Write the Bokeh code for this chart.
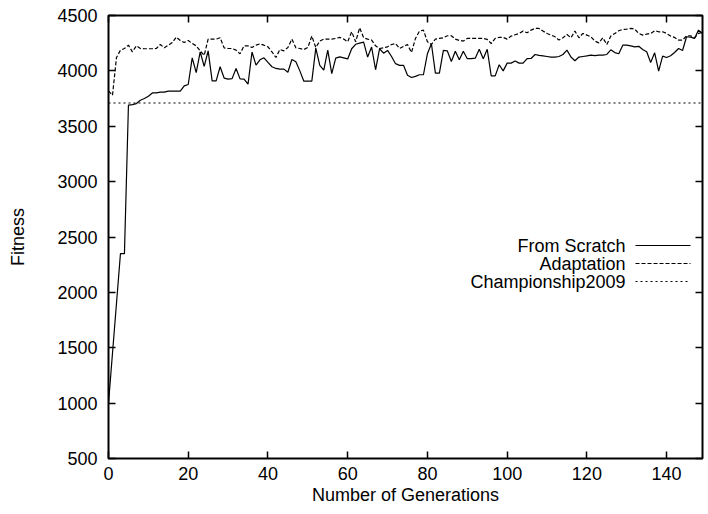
from bokeh.plotting import figure
from bokeh.models import Range1d, FixedTicker, LinearAxis, Label, Arrow, Span
from bokeh.embed import file_html
from bokeh.resources import INLINE

generations = list(range(150))

from_scratch = [
    1000, 1450, 1900, 2350, 2350, 3690, 3696, 3705, 3735, 3750,
    3771, 3801, 3801, 3808, 3808, 3817, 3817, 3817, 3817, 3865,
    3877, 4118, 3985, 4172, 4040, 4180, 3910, 3910, 4037, 3935,
    3925, 3930, 4022, 3928, 3925, 3880, 4170, 4052, 4100, 4118,
    4076, 4037, 4022, 4016, 4016, 3988, 4103, 4082, 4000, 3907,
    3907, 3907, 4205, 4050, 4006, 4187, 3976, 4115, 4127, 4118,
    4108, 4200, 4240, 4250, 4260, 4125, 4215, 4010, 4200, 4160,
    4185, 4130, 4065, 4050, 4050, 3960, 3940, 3950, 3965, 3965,
    4155, 4245, 3980, 3980, 4185, 4180, 4085, 4178, 4100, 4178,
    4110, 4110, 4115, 4195, 4110, 4195, 3955, 3955, 4055, 4000,
    4070, 4070, 4090, 4070, 4070, 4110, 4112, 4148, 4140, 4135,
    4130, 4125, 4125, 4130, 4148, 4187, 4125, 4091, 4125, 4130,
    4135, 4142, 4138, 4142, 4142, 4148, 4190, 4165, 4155, 4232,
    4232, 4226, 4217, 4222, 4193, 4172, 4076, 4163, 3997, 4133,
    4121, 4136, 4166, 4202, 4184, 4308, 4305, 4293, 4368, 4340,
]

adaptation = [
    3820, 3780, 4120, 4187, 4202, 4232, 4172, 4226, 4202, 4200,
    4200, 4200, 4202, 4238, 4208, 4232, 4256, 4305, 4275, 4256,
    4275, 4247, 4226, 4180, 4140, 4287, 4287, 4287, 4299, 4208,
    4202, 4202, 4187, 4154, 4226, 4226, 4211, 4232, 4244, 4232,
    4217, 4172, 4121, 4193, 4181, 4211, 4287, 4208, 4202, 4193,
    4211, 4314, 4211, 4269, 4287, 4287, 4287, 4293, 4302, 4287,
    4263, 4353, 4263, 4389, 4299, 4287, 4278, 4226, 4202, 4208,
    4217, 4238, 4247, 4202, 4220, 4238, 4166, 4293, 4359, 4368,
    4263, 4238, 4287, 4293, 4299, 4317, 4317, 4287, 4275, 4269,
    4293, 4293, 4293, 4293, 4293, 4284, 4247, 4293, 4302, 4302,
    4287, 4314, 4326, 4338, 4359, 4344, 4368, 4383, 4383, 4359,
    4338, 4323, 4308, 4278, 4299, 4329, 4299, 4359, 4299, 4338,
    4323, 4308, 4269, 4253, 4299, 4238, 4314, 4338, 4362, 4374,
    4377, 4383, 4377, 4338, 4323, 4332, 4338, 4362, 4353, 4353,
    4338, 4314, 4302, 4278, 4278, 4317, 4317, 4299, 4338, 4347,
]

championship2009 = 3710

x_ticks = [0, 20, 40, 60, 80, 100, 120, 140]
y_ticks = [500, 1000, 1500, 2000, 2500, 3000, 3500, 4000, 4500]
series_names = ["From Scratch", "Adaptation", "Championship2009"]

FONT = "Liberation Sans"
FS = "18px"

p = figure(width=706, height=514, output_backend="svg", toolbar_location=None,
           x_range=Range1d(0, 149), y_range=Range1d(500, 4500),
           min_border_left=108, min_border_right=4, min_border_top=15,
           min_border_bottom=56)
p.grid.visible = False
p.outline_line_color = "black"
p.outline_line_width = 2
p.background_fill_color = "white"
p.border_fill_color = "white"

p.line(generations, from_scratch, line_color="black", line_width=1.2)
p.line(generations, adaptation, line_color="black", line_width=1.2, line_dash="4 2")
p.add_layout(Span(location=championship2009, dimension="width",
                  line_color="black", line_width=1.2, line_dash="2 3"))

def style(ax, ticks, show_labels, standoff):
    ax.ticker = FixedTicker(ticks=ticks)
    ax.major_tick_in = 7
    ax.major_tick_out = 0
    ax.minor_tick_in = 0
    ax.minor_tick_out = 0
    ax.axis_line_color = None
    ax.major_tick_line_color = "black"
    ax.major_tick_line_width = 1.5
    ax.major_label_text_font = FONT
    ax.major_label_text_color = "black"
    ax.major_label_text_font_size = FS
    ax.major_label_standoff = standoff
    if not show_labels:
        ax.major_label_overrides = {t: "" for t in ticks}

style(p.xaxis[0], x_ticks, True, 8)
style(p.yaxis[0], y_ticks, True, 11)
p.xaxis[0].axis_label = "Number of Generations"
p.yaxis[0].axis_label = "Fitness"
for ax, so in ((p.xaxis[0], 2), (p.yaxis[0], 26)):
    ax.axis_label_text_font = FONT
    ax.axis_label_text_font_size = FS
    ax.axis_label_text_font_style = "normal"
    ax.axis_label_text_color = "black"
    ax.axis_label_standoff = so

top = LinearAxis()
style(top, x_ticks, False, 0)
p.add_layout(top, "above")
right = LinearAxis()
style(right, y_ticks, False, 0)
p.add_layout(right, "right")

# legend (gnuplot style: text then sample), positioned in screen units
dashes = ["solid", "4 2", "2 3"]
ys = [213, 195, 177]
for name, dash, yy in zip(series_names, dashes, ys):
    p.add_layout(Label(x=517, y=yy, x_units="screen", y_units="screen", text=name,
                       text_align="right", text_baseline="middle",
                       text_font=FONT, text_font_size=FS, text_color="black"))
    p.add_layout(Arrow(start=None, end=None, x_start=527, y_start=yy, x_end=582, y_end=yy,
                       start_units="screen", end_units="screen",
                       line_color="black", line_width=1.2, line_dash=dash))

open("out.html", "w").write(file_html(p, INLINE))
